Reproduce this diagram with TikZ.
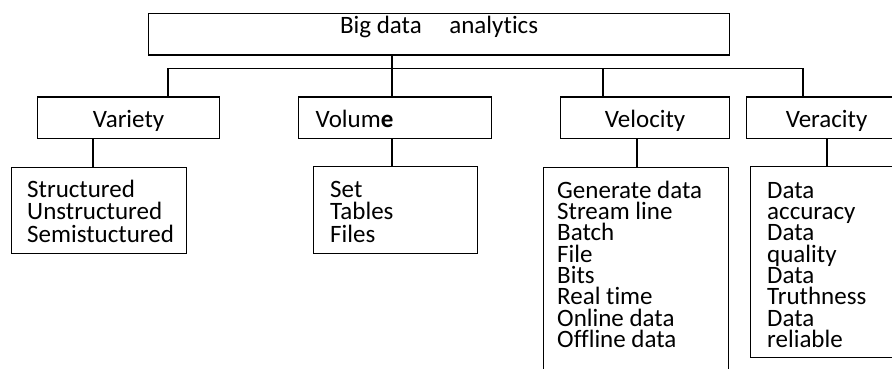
\documentclass[tikz,border=0pt]{standalone}
\usepackage{fontspec}
\setmainfont{Carlito}[Ligatures=NoCommon]
\usetikzlibrary{positioning}
\setlength{\lineskiplimit}{-30pt}
\tikzset{
  box/.style={draw, line width=1.2pt, rectangle, inner sep=0pt, anchor=north west},
  hdr/.style={box, minimum height=41.5pt, font=\fontsize{25}{25}\selectfont, text height=20pt, text depth=0pt},
  lst/.style={inner sep=0pt, anchor=base west, align=left, font=\fontsize{25}{#1}\selectfont},
  link/.style={line width=1.2pt}
}
\begin{document}
\begin{tikzpicture}[x=1pt,y=-1pt]
  \useasboundingbox (0,0) rectangle (892,369);
  \clip (0,0) rectangle (892,369);
  % top and the four V boxes
  \node[hdr, minimum width=581pt, text height=10pt, text depth=12pt] (bda) at (148,13) {Big data\hspace{22pt} analytics};
  \node[hdr, minimum width=182pt] (variety) at (37,96.5) {Variety};
  \node[hdr, text width=159pt, inner xsep=17pt, align=left] (volume) at (298,96.5) {Volum\textbf{e}};
  \node[hdr, minimum width=169pt] (velocity) at (560,96.5) {Velocity};
  \node[hdr, minimum width=160pt] (veracity) at (746,96.5) {Veracity};
  % list boxes (texts sit on their last baseline)
  \node[box, minimum width=175pt, minimum height=86pt] (varlist) at (11,167) {};
  \node[box, minimum width=164pt, minimum height=87pt] (vollist) at (313,166) {};
  \node[box, minimum width=185pt, minimum height=230pt] (vellist) at (543,167) {};
  \node[box, minimum width=200pt, minimum height=191pt] (verlist) at (750,166) {};
  \node[lst=22.5pt] (vartext) at (27,242) {Structured\\Unstructured\\Semistuctured};
  \node[lst=22.5pt] (voltext) at (330,242) {Set\\Tables\\Files};
  \node[lst=21.35pt] (veltext) at (557,347.5) {Generate data\\Stream line\\Batch\\File\\Bits\\Real time\\Online data\\Offline data};
  \node[lst=21.35pt] (vertext) at (767,347.5) {Data\\accuracy\\Data\\quality\\Data\\Truthness\\Data\\reliable};
  % bus
  \coordinate (busL) at (168,68.5);
  \coordinate (busR) at (803,68.5);
  \coordinate (hub) at (392,68.5);
  \coordinate (velx) at (603,68.5);
  \draw[link] (busL) -- (busR);
  \draw[link] (bda.south -| hub) -- (hub);
  \draw[link] (busL) -- (busL |- variety.north);
  \draw[link] (hub) -- (hub |- volume.north);
  \draw[link] (velx) -- (velx |- velocity.north);
  \draw[link] (busR) -- (busR |- veracity.north);
  % stems
  \coordinate (varstem) at (93,150);
  \coordinate (volstem) at (392,150);
  \coordinate (velstem) at (637,150);
  \coordinate (verstem) at (827,150);
  \draw[link] (variety.south -| varstem) -- (varlist.north -| varstem);
  \draw[link] (volume.south -| volstem) -- (vollist.north -| volstem);
  \draw[link] (velocity.south -| velstem) -- (vellist.north -| velstem);
  \draw[link] (veracity.south -| verstem) -- (verlist.north -| verstem);
\end{tikzpicture}
\end{document}
